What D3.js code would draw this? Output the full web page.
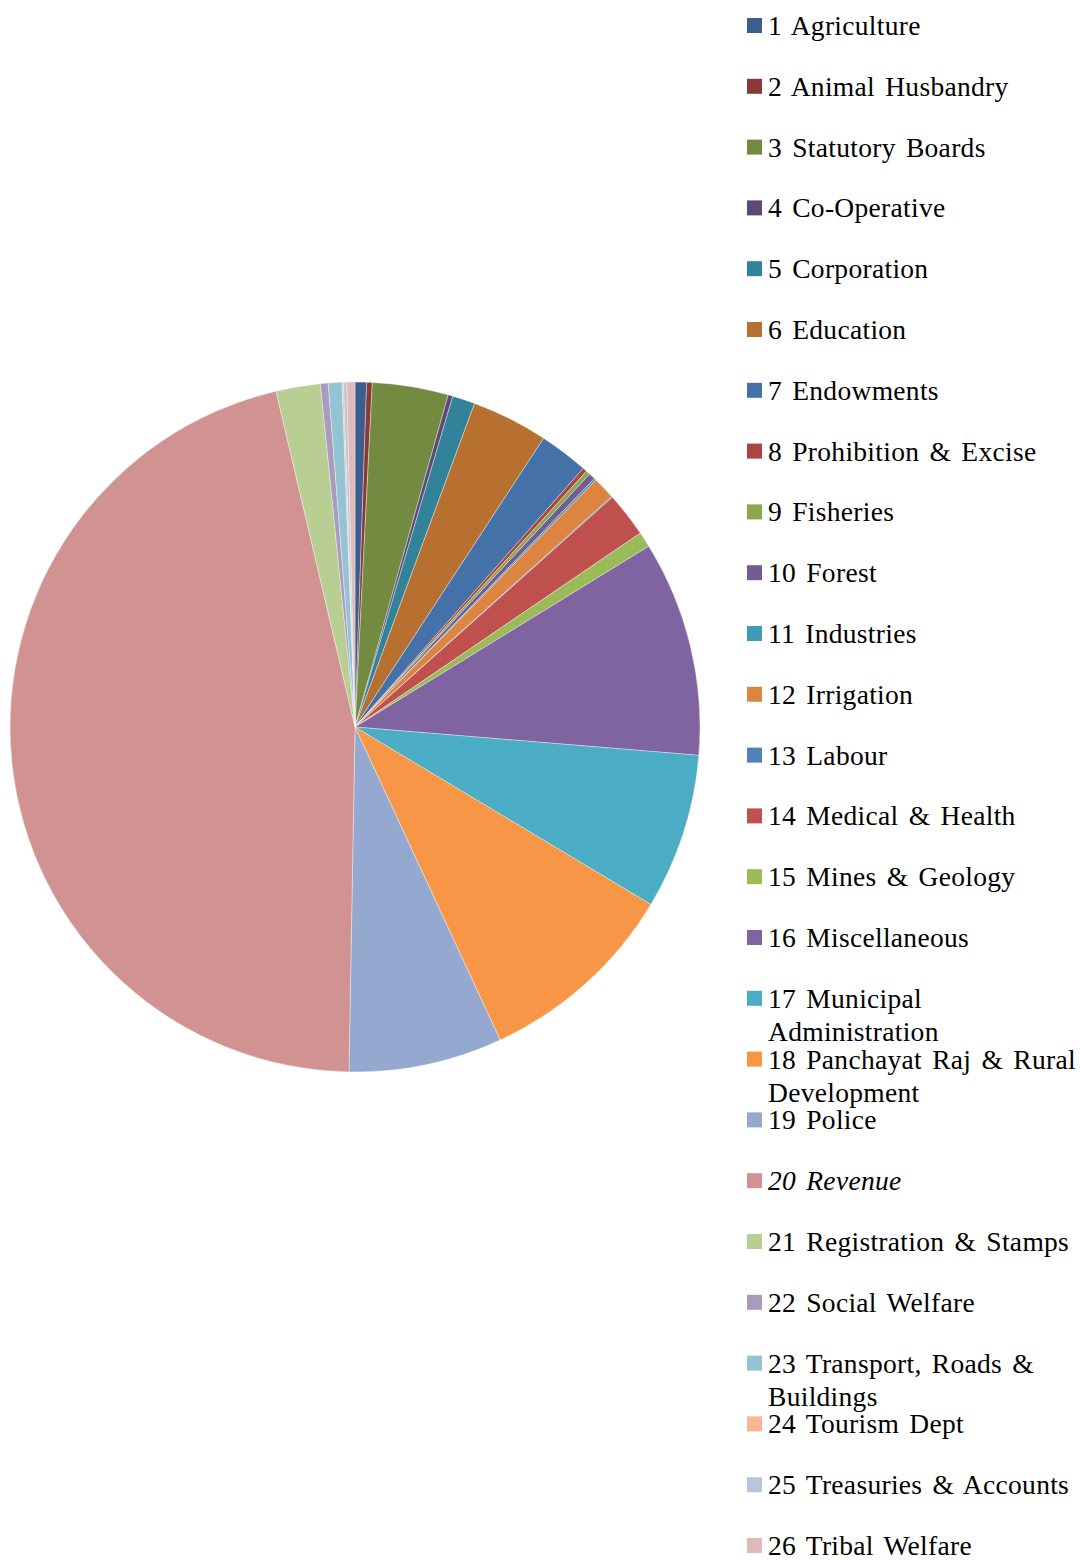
<!DOCTYPE html>
<html>
<head>
<meta charset="utf-8">
<script src="https://cdn.jsdelivr.net/npm/d3@7"></script>
<style>
  html, body { margin: 0; padding: 0; background: #fff; }
  svg { display: block; }
</style>
</head>
<body>
<svg id="chart" width="1080" height="1560"></svg>
<script>
const categories = [
  "1 Agriculture", "2 Animal Husbandry", "3 Statutory Boards", "4 Co-Operative",
  "5 Corporation", "6 Education", "7 Endowments", "8 Prohibition & Excise",
  "9 Fisheries", "10 Forest", "11 Industries", "12 Irrigation", "13 Labour",
  "14 Medical & Health", "15 Mines & Geology", "16 Miscellaneous",
  "17 Municipal\nAdministration", "18 Panchayat Raj & Rural\nDevelopment",
  "19 Police", "20 Revenue", "21 Registration & Stamps", "22 Social Welfare",
  "23 Transport, Roads &\nBuildings", "24 Tourism Dept", "25 Treasuries & Accounts",
  "26 Tribal Welfare"
];
const values = [
  0.54, 0.26, 3.56, 0.22, 1.06, 3.58, 2.30, 0.20, 0.20, 0.30, 0.10, 1.05, 0.05,
  2.10, 0.72, 10.10, 7.30, 9.50, 7.20, 46.10, 2.08, 0.36, 0.64, 0.07, 0.15, 0.38
];
const colors = [
  "#3A5F8F", "#8C3836", "#738B40", "#5E4878", "#32839A", "#B7702F", "#4472A8",
  "#AA4543", "#8CA84D", "#745B94", "#3F9AB3", "#DC8440", "#4F81BD", "#C0504D",
  "#9BBB59", "#8064A2", "#4BACC6", "#F79646", "#95A9D0", "#D19392", "#B9CE93",
  "#A99BBD", "#93C4D3", "#F9B692", "#B9C5DD", "#DFBAB9"
];
const italicItems = ["20 Revenue"];

const svg = d3.select("#chart");
const cx = 355, cy = 727, r = 345;

const data = categories.map((c, i) => ({ name: c, value: values[i], color: colors[i] }));

const pie = d3.pie().value(d => d.value).sort(null);
const arc = d3.arc().innerRadius(0).outerRadius(r);

svg.append("g")
  .attr("transform", `translate(${cx},${cy})`)
  .selectAll("path")
  .data(pie(data))
  .join("path")
  .attr("d", arc)
  .attr("fill", d => d.data.color)
  .attr("stroke", "#ffffff")
  .attr("stroke-opacity", 0.6)
  .attr("stroke-width", 0.6);

// Legend
const legendY = d3.scaleLinear().domain([0, categories.length - 1]).range([26, 1546]);
const legend = svg.append("g")
  .attr("font-family", "'Liberation Serif', 'Times New Roman', serif")
  .attr("font-size", 27.5)
  .attr("letter-spacing", 0.3)
  .attr("word-spacing", 3)
  .attr("fill", "#000");

const items = legend.selectAll("g.item")
  .data(data)
  .join("g")
  .attr("class", "item")
  .attr("transform", (d, i) => `translate(0,${legendY(i)})`);

items.append("rect")
  .attr("x", 747).attr("y", -8)
  .attr("width", 15).attr("height", 15)
  .attr("fill", d => d.color);

items.each(function(d) {
  const lines = d.name.split("\n");
  const t = d3.select(this).append("text")
    .attr("x", 768)
    .attr("y", 9)
    .attr("font-style", italicItems.includes(d.name) ? "italic" : "normal");
  lines.forEach((ln, k) => {
    t.append("tspan").attr("x", 768).attr("dy", k === 0 ? 0 : 33).text(ln);
  });
});
</script>
</body>
</html>
